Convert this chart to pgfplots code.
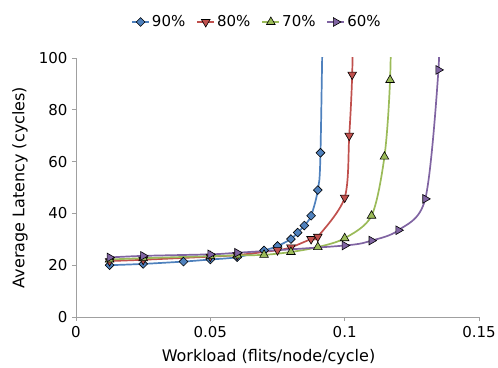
\documentclass[border=0pt]{standalone}
\usepackage{pgfplots}
\pgfplotsset{compat=1.18}
\usepackage{fontspec}
\setmainfont{DejaVu Sans}
\definecolor{c90}{HTML}{4F81BD}
\definecolor{c80}{HTML}{C0504D}
\definecolor{c70}{HTML}{9BBB59}
\definecolor{c60}{HTML}{8064A2}
\definecolor{axgray}{HTML}{A0A0A0}
\begin{document}
\begin{tikzpicture}
\useasboundingbox (-76pt,-50pt) rectangle (422pt,317pt);
\begin{axis}[
  scale only axis, width=403pt, height=259pt,
  xmin=0, xmax=0.15, ymin=0, ymax=100,
  axis lines*=left,
  axis line style={axgray, line width=0.8pt, -},
  tick style={axgray, line width=0.8pt},
  tick align=outside, major tick length=4pt,
  xtick={0,0.05,0.1,0.15}, xticklabels={0,0.05,0.1,0.15},
  ytick={0,20,40,60,80,100},
  /pgf/number format/assume math mode=true,
  ticklabel style={font=\fontsize{15}{18}\selectfont},
  xticklabel style={yshift=-2pt},
  yticklabel style={xshift=-1pt},
  xlabel={Workload (flits/node/cycle)},
  ylabel={Average Latency (cycles)},
  label style={font=\fontsize{16}{19}\selectfont},
  xlabel style={at={(axis description cs:0.5,0)}, anchor=center, yshift=-40pt, xshift=-9pt},
  ylabel style={at={(axis description cs:-0.139,0.5)}, anchor=center},
  legend style={draw=none, fill=none, legend columns=-1, at={(0.449,1.139)}, anchor=center,
    font=\fontsize{15}{18}\selectfont,
    /tikz/every even column/.append style={column sep=9pt}},
  legend cell align=left,
  every axis plot/.append style={line width=1.7pt, smooth, tension=0.5},
]
\addplot[c90, mark=square*, mark size=3.1pt, mark options={fill=c90, draw=black, line width=0.6pt, rotate=45}]
coordinates {(0.0125,20.0) (0.025,20.5) (0.04,21.4) (0.05,22.2) (0.06,23.1) (0.07,25.7) (0.075,27.4) (0.08,30.1) (0.0825,32.6) (0.085,35.3) (0.0875,39.1) (0.09,49.0) (0.091,63.4) (0.0922,140)};
\addlegendentry{90\%}
\addplot[c80, mark=triangle*, mark size=5pt, mark options={fill=c80, draw=black, line width=0.6pt, rotate=180}]
coordinates {(0.0125,21.6) (0.025,22.1) (0.05,23.3) (0.06,23.9) (0.075,25.8) (0.08,26.9) (0.0875,30.1) (0.09,31.0) (0.1,46.1) (0.1017,70.0) (0.1028,93.6) (0.1034,130)};
\addlegendentry{80\%}
\addplot[c70, mark=triangle*, mark size=5pt, mark options={fill=c70, draw=black, line width=0.6pt}]
coordinates {(0.0125,22.2) (0.025,22.7) (0.05,23.5) (0.06,23.8) (0.07,24.0) (0.08,25.1) (0.09,27.0) (0.1,30.4) (0.11,39.1) (0.1148,61.9) (0.1169,91.5) (0.1175,130)};
\addlegendentry{70\%}
\addplot[c60, mark=triangle*, mark size=5pt, mark options={fill=c60, draw=black, line width=0.6pt, rotate=-90}]
coordinates {(0.0125,23.0) (0.025,23.6) (0.05,24.2) (0.06,24.8) (0.1,27.6) (0.11,29.5) (0.12,33.5) (0.13,45.6) (0.1349,95.4) (0.1355,130)};
\addlegendentry{60\%}
\end{axis}
\end{tikzpicture}
\end{document}
